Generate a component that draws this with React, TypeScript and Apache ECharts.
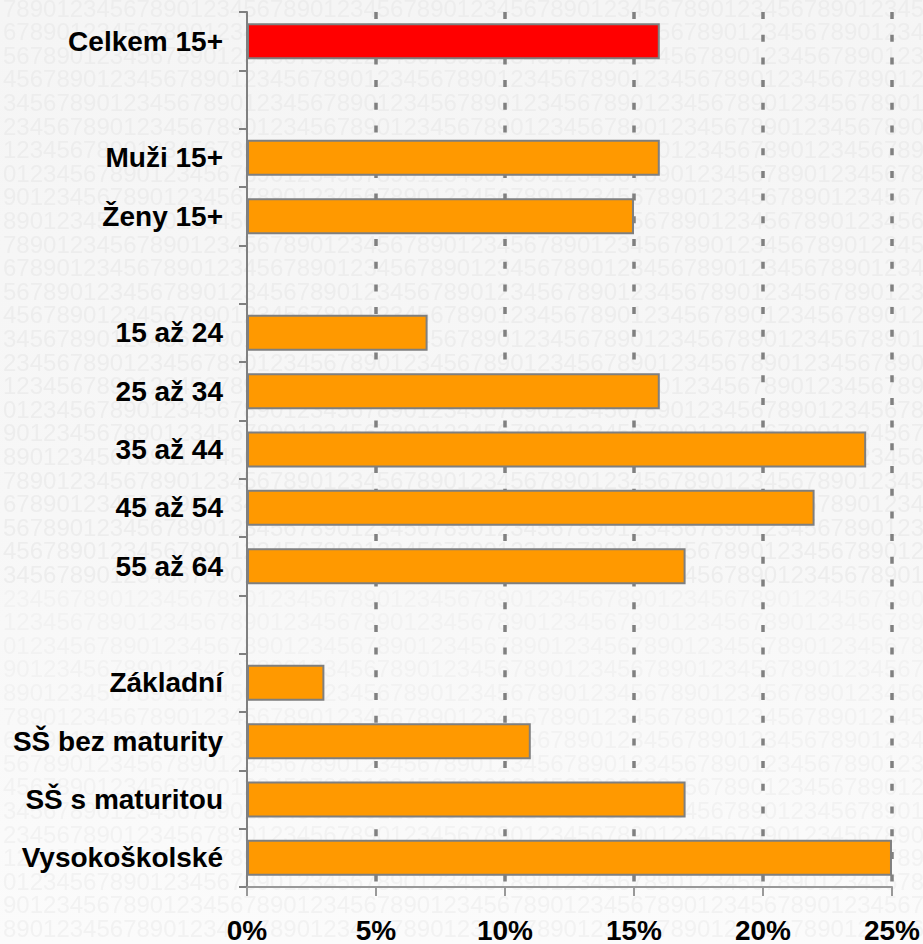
import React, { useEffect, useRef } from "react";
import * as echarts from "echarts";

const categories: string[] = [
  "Celkem 15+",
  " ",
  "Muži 15+",
  "Ženy 15+",
  "  ",
  "15 až 24",
  "25 až 34",
  "35 až 44",
  "45 až 54",
  "55 až 64",
  "   ",
  "Základní",
  "SŠ bez maturity",
  "SŠ s maturitou",
  "Vysokoškolské",
];

const values: (number | null)[] = [16, null, 16, 15, null, 7, 16, 24, 22, 17, null, 3, 11, 17, 25];

const highlightIndex = 0;

const xTicks = { min: 0, max: 25, interval: 5 };

const FONT = '"Liberation Sans", Arial, Helvetica, sans-serif';

const W = 923;
const H = 944;

// decorative background texture (digit pattern), drawn into an image
function buildTexture(): string {
  const c = document.createElement("canvas");
  c.width = W;
  c.height = H;
  const ctx = c.getContext("2d");
  if (!ctx) return "";
  const g = ctx.createLinearGradient(0, 0, 0, H);
  g.addColorStop(0, "#f5f5f5");
  g.addColorStop(0.55, "#f7f7f7");
  g.addColorStop(1, "#fbfbfb");
  ctx.fillStyle = g;
  ctx.fillRect(0, 0, W, H);
  ctx.font = `24px ${FONT}`;
  ctx.textBaseline = "middle";
  for (let i = 0; i < 41; i++) {
    const start = (((7 - i) % 10) + 10) % 10;
    let s = "";
    for (let k = 0; k < 72; k++) s += String((start + k) % 10);
    ctx.fillStyle = i < 25 ? "#ededed" : "#f2f2f2";
    ctx.fillText(s, 3, 10 + i * 23.6);
  }
  return c.toDataURL("image/png");
}

export default function App() {
  const ref = useRef<HTMLDivElement>(null);

  useEffect(() => {
    document.body.style.margin = "0";
    if (!ref.current) return;
    const chart = echarts.init(ref.current, undefined, { renderer: "svg" });
    const texture = buildTexture();
    chart.setOption({
      animation: false,
      backgroundColor: "#f7f7f7",
      graphic: texture
        ? [
            {
              type: "image",
              x: 0,
              y: 0,
              z: -100,
              silent: true,
              style: { image: texture, width: W, height: H },
            },
          ]
        : [],
      grid: { left: 247, right: 29, top: 12, bottom: 57, containLabel: false },
      xAxis: {
        type: "value",
        min: xTicks.min,
        max: xTicks.max,
        interval: xTicks.interval,
        axisLine: { show: true, lineStyle: { color: "#999999", width: 2 } },
        axisTick: { show: true, length: 9, lineStyle: { color: "#999999", width: 2 } },
        axisLabel: {
          formatter: "{value}%",
          color: "#000",
          fontFamily: FONT,
          fontWeight: "bold",
          fontSize: 28,
          margin: 29,
        },
        splitLine: {
          show: true,
          showMinLine: false,
          lineStyle: { color: "#808080", width: 3.5, type: [7, 15.7] },
        },
      },
      yAxis: {
        type: "category",
        inverse: true,
        data: categories,
        axisLine: { show: true, lineStyle: { color: "#808080", width: 2 } },
        axisTick: { show: true, interval: 0, length: 8, lineStyle: { color: "#808080", width: 2 } },
        axisLabel: {
          interval: 0,
          color: "#000",
          fontFamily: FONT,
          fontWeight: "bold",
          fontSize: 28,
          margin: 24,
        },
        splitLine: { show: false },
      },
      series: [
        {
          type: "bar",
          barWidth: 36,
          data: values.map((v, i) =>
            v === null
              ? "-"
              : {
                  value: v,
                  itemStyle: { color: i === highlightIndex ? "#ff0000" : "#ff9900" },
                }
          ),
          itemStyle: { borderColor: "#7f7f7f", borderWidth: 2 },
          z: 3,
        },
      ],
    });
    return () => chart.dispose();
  }, []);

  return (
    <div
      ref={ref}
      style={{ position: "absolute", left: 0, top: 0, width: W, height: H }}
    />
  );
}
